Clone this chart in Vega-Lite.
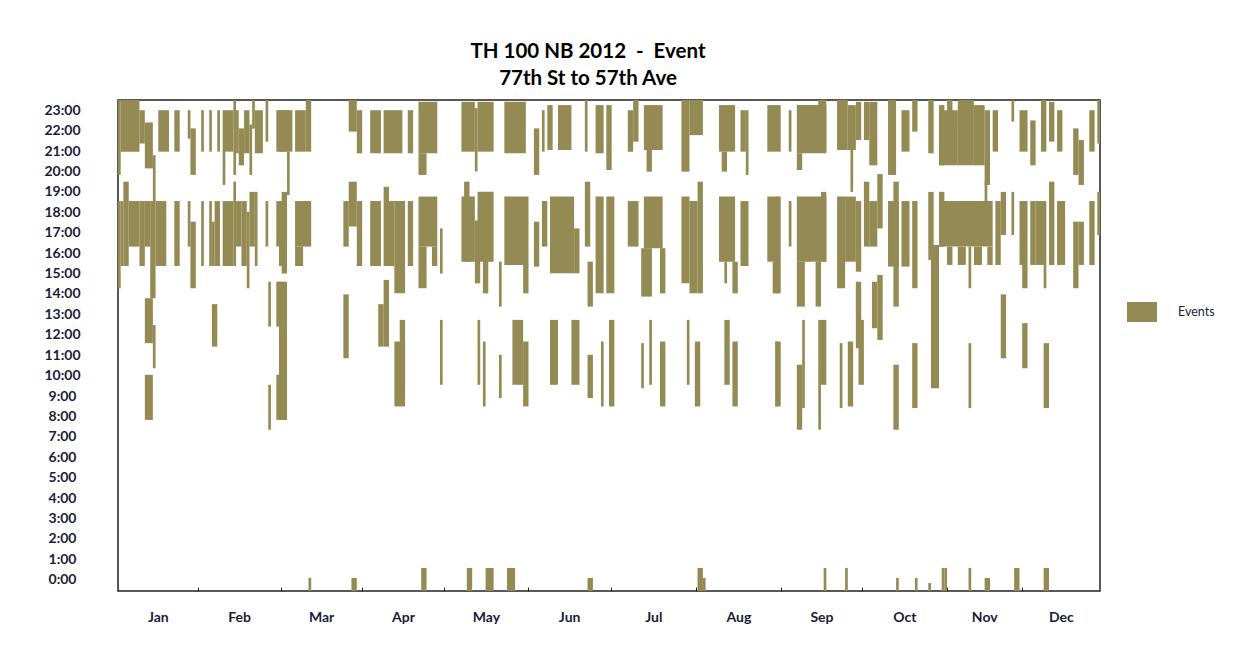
{
  "$schema": "https://vega.github.io/schema/vega-lite/v6.json",
  "width": 982,
  "height": 491,
  "autosize": {"type": "none"},
  "padding": {"left": 118, "top": 100, "right": 141, "bottom": 67},
  "background": "white",
  "title": {
    "text": ["TH 100 NB 2012\u00a0\u00a0-\u00a0\u00a0Event", "77th St to 57th Ave"],
    "font": "Lato",
    "fontSize": 20.5,
    "fontWeight": "bold",
    "color": "#000000",
    "anchor": "middle",
    "dx": -21,
    "lineHeight": 27,
    "offset": 11
  },
  "config": {
    "view": {"stroke": "#222222", "strokeWidth": 1.5},
    "axis": {"labelFont": "Lato", "labelFontWeight": "bold", "labelColor": "#1c1c38", "grid": false, "domain": false}
  },
  "data": {
    "values": [
      {"d0":0,"d1":1,"h0":19.83,"h1":23.5},{"d0":1,"d1":8,"h0":20.97,"h1":23.5},{"d0":8,"d1":10,"h0":21.37,"h1":23.0},{"d0":10,"d1":13,"h0":20.15,"h1":22.4},{"d0":13,"d1":14,"h0":18.5,"h1":20.8},{"d0":15,"d1":19,"h0":20.97,"h1":23.0},{"d0":21,"d1":23,"h0":20.97,"h1":23.0},{"d0":26,"d1":27,"h0":21.6,"h1":23.0},{"d0":27,"d1":29,"h0":19.83,"h1":22.11},{"d0":31,"d1":32,"h0":20.97,"h1":23.0},{"d0":34,"d1":35,"h0":20.97,"h1":23.0},{"d0":37,"d1":38,"h0":20.97,"h1":23.0},{"d0":39,"d1":43,"h0":20.97,"h1":23.0},{"d0":39,"d1":40,"h0":19.34,"h1":21.0},{"d0":43,"d1":44,"h0":19.83,"h1":23.5},{"d0":44,"d1":45,"h0":20.89,"h1":23.0},{"d0":45,"d1":47,"h0":20.3,"h1":22.11},{"d0":47,"d1":49,"h0":20.89,"h1":23.0},{"d0":49,"d1":50,"h0":19.83,"h1":22.3},{"d0":50,"d1":51,"h0":22.1,"h1":23.5},{"d0":51,"d1":54,"h0":20.89,"h1":23.0},{"d0":55,"d1":56,"h0":21.46,"h1":23.5},{"d0":59,"d1":63,"h0":20.97,"h1":23.0},
      {"d0":0,"d1":1,"h0":14.28,"h1":18.55},{"d0":1,"d1":2,"h0":15.37,"h1":18.55},{"d0":2,"d1":4,"h0":15.37,"h1":19.5},{"d0":4,"d1":8,"h0":16.32,"h1":18.55},{"d0":8,"d1":10,"h0":15.37,"h1":18.55},{"d0":10,"d1":12,"h0":16.32,"h1":18.55},{"d0":12,"d1":14,"h0":13.79,"h1":18.55},{"d0":14,"d1":18,"h0":15.37,"h1":18.55},{"d0":21,"d1":23,"h0":15.37,"h1":18.55},{"d0":26,"d1":27,"h0":16.32,"h1":18.55},{"d0":27,"d1":29,"h0":14.28,"h1":17.54},{"d0":31,"d1":32,"h0":15.37,"h1":18.55},{"d0":34,"d1":35,"h0":15.37,"h1":18.55},{"d0":35,"d1":36,"h0":15.37,"h1":17.54},{"d0":36,"d1":38,"h0":15.37,"h1":18.55},{"d0":39,"d1":43,"h0":15.37,"h1":18.55},{"d0":43,"d1":44,"h0":15.37,"h1":19.5},{"d0":44,"d1":46,"h0":16.32,"h1":18.55},{"d0":46,"d1":48,"h0":15.37,"h1":18.55},{"d0":48,"d1":49,"h0":14.28,"h1":18.03},{"d0":49,"d1":51,"h0":16.32,"h1":19.0},{"d0":51,"d1":52,"h0":15.37,"h1":19.0},{"d0":55,"d1":56,"h0":16.32,"h1":18.55},{"d0":59,"d1":63,"h0":16.32,"h1":18.55},
      {"d0":10,"d1":13,"h0":11.59,"h1":13.79},{"d0":13,"d1":14,"h0":10.36,"h1":12.48},{"d0":10,"d1":13,"h0":7.83,"h1":10.04},{"d0":35,"d1":37,"h0":11.42,"h1":13.5},{"d0":56,"d1":57,"h0":12.4,"h1":14.6},{"d0":56,"d1":57,"h0":7.35,"h1":9.55},{"d0":59,"d1":61,"h0":12.4,"h1":14.6},{"d0":59,"d1":61,"h0":7.83,"h1":10.04},
      {"d0":60,"d1":65,"h0":20.97,"h1":23.0},{"d0":63,"d1":64,"h0":18.85,"h1":20.97},{"d0":66,"d1":70,"h0":20.97,"h1":23.0},{"d0":70,"d1":72,"h0":20.97,"h1":23.5},{"d0":60,"d1":62,"h0":15.37,"h1":18.55},{"d0":61,"d1":63,"h0":15.0,"h1":19.0},{"d0":60,"d1":63,"h0":7.83,"h1":14.6},{"d0":66,"d1":72,"h0":16.32,"h1":18.55},{"d0":66,"d1":69,"h0":15.37,"h1":16.32},{"d0":84,"d1":86,"h0":16.32,"h1":18.55},{"d0":86,"d1":89,"h0":17.3,"h1":19.5},{"d0":89,"d1":91,"h0":15.37,"h1":18.55},{"d0":84,"d1":86,"h0":10.85,"h1":13.98},{"d0":86,"d1":89,"h0":21.95,"h1":23.5},{"d0":89,"d1":91,"h0":20.89,"h1":23.0},{"d0":94,"d1":98,"h0":20.89,"h1":23.0},{"d0":94,"d1":98,"h0":15.37,"h1":18.55},{"d0":99,"d1":106,"h0":20.89,"h1":23.0},{"d0":99,"d1":101,"h0":15.37,"h1":19.25},{"d0":101,"d1":103,"h0":15.37,"h1":18.55},{"d0":103,"d1":107,"h0":14.03,"h1":18.55},{"d0":97,"d1":99,"h0":11.42,"h1":13.5},{"d0":99,"d1":101,"h0":11.42,"h1":14.69},{"d0":103,"d1":107,"h0":8.49,"h1":11.67},{"d0":105,"d1":107,"h0":9.55,"h1":12.73},{"d0":108,"d1":110,"h0":20.89,"h1":23.0},{"d0":108,"d1":110,"h0":15.37,"h1":18.55},{"d0":112,"d1":119,"h0":20.89,"h1":23.41},{"d0":112,"d1":115,"h0":19.83,"h1":20.89},{"d0":112,"d1":119,"h0":16.32,"h1":18.77},{"d0":112,"d1":115,"h0":14.28,"h1":16.32},{"d0":117,"d1":119,"h0":15.37,"h1":16.32},{"d0":120,"d1":121,"h0":15.0,"h1":17.21},{"d0":120,"d1":121,"h0":9.55,"h1":12.73},
      {"d0":71,"d1":72,"h0":-0.55,"h1":0.09},{"d0":87,"d1":89,"h0":-0.55,"h1":0.09},{"d0":113,"d1":115,"h0":-0.55,"h1":0.58},
      {"d0":128,"d1":133,"h0":20.97,"h1":23.41},{"d0":134,"d1":140,"h0":20.97,"h1":23.41},{"d0":133,"d1":134,"h0":20.0,"h1":23.1},{"d0":144,"d1":152,"h0":20.89,"h1":23.41},{"d0":155,"d1":157,"h0":19.83,"h1":22.11},{"d0":158,"d1":159,"h0":20.97,"h1":23.0},{"d0":160,"d1":162,"h0":21.05,"h1":23.25},{"d0":164,"d1":169,"h0":21.05,"h1":23.25},{"d0":174,"d1":175,"h0":20.97,"h1":23.5},{"d0":178,"d1":181,"h0":20.89,"h1":23.25},{"d0":182,"d1":184,"h0":20.07,"h1":23.25},
      {"d0":128,"d1":133,"h0":15.58,"h1":18.77},{"d0":134,"d1":140,"h0":15.58,"h1":19.0},{"d0":129,"d1":131,"h0":15.58,"h1":19.5},{"d0":133,"d1":135,"h0":14.52,"h1":17.6},{"d0":136,"d1":138,"h0":14.03,"h1":16.0},{"d0":142,"d1":143,"h0":13.38,"h1":15.58},{"d0":144,"d1":153,"h0":15.42,"h1":18.77},{"d0":151,"d1":153,"h0":14.03,"h1":15.42},{"d0":155,"d1":157,"h0":15.34,"h1":17.54},{"d0":158,"d1":160,"h0":16.32,"h1":18.55},{"d0":161,"d1":170,"h0":15.01,"h1":18.77},{"d0":170,"d1":172,"h0":15.01,"h1":17.21},{"d0":174,"d1":176,"h0":16.32,"h1":19.5},{"d0":175,"d1":177,"h0":13.38,"h1":15.58},{"d0":178,"d1":181,"h0":14.03,"h1":18.77},{"d0":182,"d1":185,"h0":14.03,"h1":18.77},
      {"d0":134,"d1":135,"h0":9.55,"h1":12.73},{"d0":136,"d1":137,"h0":8.49,"h1":11.67},{"d0":142,"d1":143,"h0":8.9,"h1":11.02},{"d0":147,"d1":151,"h0":9.55,"h1":12.73},{"d0":151,"d1":153,"h0":8.49,"h1":11.67},{"d0":161,"d1":164,"h0":9.55,"h1":12.73},{"d0":169,"d1":172,"h0":9.55,"h1":12.73},{"d0":175,"d1":177,"h0":8.9,"h1":11.02},{"d0":180,"d1":181,"h0":8.49,"h1":11.67},{"d0":183,"d1":185,"h0":8.49,"h1":12.73},
      {"d0":130,"d1":132,"h0":-0.55,"h1":0.58},{"d0":137,"d1":140,"h0":-0.55,"h1":0.58},{"d0":145,"d1":148,"h0":-0.55,"h1":0.58},{"d0":175,"d1":177,"h0":-0.55,"h1":0.09},
      {"d0":190,"d1":192,"h0":20.97,"h1":23.0},{"d0":192,"d1":194,"h0":21.46,"h1":23.5},{"d0":196,"d1":203,"h0":21.05,"h1":23.25},{"d0":197,"d1":199,"h0":19.99,"h1":21.05},{"d0":210,"d1":213,"h0":19.99,"h1":23.5},{"d0":213,"d1":218,"h0":21.78,"h1":23.5},{"d0":224,"d1":230,"h0":20.97,"h1":23.25},{"d0":225,"d1":227,"h0":19.99,"h1":20.97},{"d0":232,"d1":234,"h0":20.97,"h1":23.0},{"d0":234,"d1":235,"h0":19.83,"h1":23.0},{"d0":242,"d1":247,"h0":20.97,"h1":23.25},
      {"d0":190,"d1":194,"h0":16.32,"h1":18.55},{"d0":196,"d1":203,"h0":16.24,"h1":18.77},{"d0":195,"d1":199,"h0":13.87,"h1":16.24},{"d0":202,"d1":204,"h0":14.03,"h1":16.24},{"d0":210,"d1":213,"h0":14.52,"h1":18.77},{"d0":213,"d1":216,"h0":14.03,"h1":18.55},{"d0":216,"d1":218,"h0":14.03,"h1":19.5},{"d0":224,"d1":230,"h0":15.58,"h1":18.77},{"d0":226,"d1":227,"h0":14.52,"h1":15.58},{"d0":229,"d1":231,"h0":14.03,"h1":15.58},{"d0":232,"d1":235,"h0":15.37,"h1":18.55},{"d0":242,"d1":246,"h0":15.58,"h1":18.77},{"d0":244,"d1":246,"h0":14.03,"h1":15.58},
      {"d0":195,"d1":196,"h0":9.38,"h1":11.59},{"d0":198,"d1":199,"h0":9.55,"h1":12.73},{"d0":202,"d1":204,"h0":8.49,"h1":11.67},{"d0":212,"d1":213,"h0":9.55,"h1":12.73},{"d0":215,"d1":217,"h0":8.49,"h1":11.67},{"d0":226,"d1":228,"h0":9.55,"h1":12.73},{"d0":229,"d1":231,"h0":8.49,"h1":11.67},{"d0":245,"d1":246,"h0":8.49,"h1":11.67},
      {"d0":216,"d1":218,"h0":-0.55,"h1":0.58},{"d0":218,"d1":219,"h0":-0.55,"h1":0.09},
      {"d0":245,"d1":247,"h0":14.03,"h1":18.77},{"d0":245,"d1":247,"h0":8.49,"h1":11.67},{"d0":250,"d1":251,"h0":20.97,"h1":23.0},{"d0":250,"d1":251,"h0":16.32,"h1":18.55},{"d0":253,"d1":264,"h0":20.89,"h1":23.25},{"d0":253,"d1":255,"h0":20.07,"h1":20.89},{"d0":261,"d1":264,"h0":20.97,"h1":23.5},{"d0":253,"d1":264,"h0":15.58,"h1":18.77},{"d0":262,"d1":264,"h0":15.58,"h1":19.0},{"d0":253,"d1":256,"h0":13.38,"h1":15.58},{"d0":260,"d1":262,"h0":13.38,"h1":15.58},{"d0":253,"d1":255,"h0":7.35,"h1":10.53},{"d0":255,"d1":256,"h0":8.41,"h1":12.73},{"d0":261,"d1":262,"h0":7.35,"h1":12.73},{"d0":262,"d1":264,"h0":9.55,"h1":12.73},
      {"d0":268,"d1":272,"h0":21.05,"h1":23.5},{"d0":272,"d1":275,"h0":21.05,"h1":23.25},{"d0":273,"d1":274,"h0":19.0,"h1":21.05},{"d0":275,"d1":277,"h0":21.54,"h1":23.41},{"d0":268,"d1":271,"h0":14.28,"h1":18.77},{"d0":271,"d1":275,"h0":15.58,"h1":18.77},{"d0":275,"d1":277,"h0":15.09,"h1":18.55},{"d0":275,"d1":277,"h0":11.34,"h1":14.6},{"d0":276,"d1":278,"h0":9.55,"h1":12.73},{"d0":269,"d1":270,"h0":8.41,"h1":11.59},{"d0":272,"d1":274,"h0":8.49,"h1":11.67},
      {"d0":278,"d1":280,"h0":21.54,"h1":23.41},{"d0":280,"d1":283,"h0":20.3,"h1":23.41},{"d0":278,"d1":280,"h0":16.32,"h1":19.5},{"d0":280,"d1":283,"h0":16.32,"h1":18.55},{"d0":283,"d1":285,"h0":17.21,"h1":19.87},{"d0":281,"d1":283,"h0":12.32,"h1":14.6},{"d0":283,"d1":285,"h0":11.75,"h1":14.93},
      {"d0":287,"d1":290,"h0":19.83,"h1":23.5},{"d0":287,"d1":291,"h0":15.34,"h1":18.55},{"d0":289,"d1":291,"h0":13.38,"h1":19.5},{"d0":289,"d1":291,"h0":7.35,"h1":10.53},{"d0":292,"d1":295,"h0":20.97,"h1":23.0},{"d0":292,"d1":295,"h0":15.34,"h1":18.55},{"d0":296,"d1":298,"h0":21.95,"h1":23.5},{"d0":296,"d1":298,"h0":14.28,"h1":18.55},{"d0":296,"d1":298,"h0":8.41,"h1":11.59},{"d0":302,"d1":304,"h0":20.89,"h1":23.5},{"d0":302,"d1":304,"h0":15.67,"h1":19.0},{"d0":303,"d1":306,"h0":9.38,"h1":16.4},{"d0":306,"d1":308,"h0":20.3,"h1":23.25},{"d0":306,"d1":308,"h0":16.32,"h1":19.0},
      {"d0":263,"d1":264,"h0":-0.55,"h1":0.58},{"d0":271,"d1":272,"h0":-0.55,"h1":0.58},{"d0":290,"d1":291,"h0":-0.55,"h1":0.09},{"d0":297,"d1":298,"h0":-0.55,"h1":0.09},{"d0":302,"d1":303,"h0":-0.55,"h1":-0.16},{"d0":307,"d1":308,"h0":-0.55,"h1":0.58},
      {"d0":306,"d1":313,"h0":20.3,"h1":23.0},{"d0":309,"d1":311,"h0":22.0,"h1":23.5},{"d0":313,"d1":319,"h0":20.3,"h1":23.5},{"d0":319,"d1":323,"h0":20.3,"h1":23.25},{"d0":323,"d1":325,"h0":19.34,"h1":23.0},{"d0":326,"d1":328,"h0":20.97,"h1":23.0},{"d0":333,"d1":334,"h0":22.44,"h1":23.5},{"d0":336,"d1":339,"h0":20.97,"h1":23.0},{"d0":340,"d1":342,"h0":20.3,"h1":22.5},{"d0":344,"d1":346,"h0":20.97,"h1":23.5},{"d0":347,"d1":349,"h0":21.46,"h1":23.41},{"d0":350,"d1":352,"h0":20.97,"h1":23.0},{"d0":356,"d1":358,"h0":19.83,"h1":22.11},{"d0":358,"d1":360,"h0":19.34,"h1":21.54},{"d0":362,"d1":364,"h0":20.97,"h1":23.0},{"d0":365,"d1":366,"h0":21.37,"h1":23.5},
      {"d0":306,"d1":326,"h0":16.32,"h1":18.55},{"d0":306,"d1":307,"h0":16.32,"h1":19.0},{"d0":309,"d1":311,"h0":15.42,"h1":16.32},{"d0":313,"d1":316,"h0":15.42,"h1":16.32},{"d0":317,"d1":318,"h0":14.28,"h1":16.32},{"d0":319,"d1":322,"h0":15.42,"h1":16.32},{"d0":324,"d1":326,"h0":15.42,"h1":16.32},{"d0":323,"d1":324,"h0":17.54,"h1":19.5},{"d0":327,"d1":329,"h0":15.42,"h1":18.55},{"d0":329,"d1":331,"h0":16.89,"h1":19.0},{"d0":333,"d1":334,"h0":16.89,"h1":19.0},{"d0":336,"d1":339,"h0":15.42,"h1":18.55},{"d0":337,"d1":339,"h0":14.28,"h1":15.42},{"d0":340,"d1":342,"h0":15.42,"h1":18.55},{"d0":342,"d1":346,"h0":15.42,"h1":18.55},{"d0":345,"d1":346,"h0":14.28,"h1":15.42},{"d0":347,"d1":349,"h0":15.42,"h1":19.5},{"d0":350,"d1":353,"h0":15.42,"h1":18.55},{"d0":356,"d1":358,"h0":14.28,"h1":17.54},{"d0":358,"d1":360,"h0":15.42,"h1":17.54},{"d0":362,"d1":364,"h0":15.42,"h1":18.55},{"d0":365,"d1":366,"h0":16.89,"h1":19.0},
      {"d0":317,"d1":318,"h0":8.41,"h1":11.59},{"d0":329,"d1":331,"h0":10.85,"h1":13.98},{"d0":337,"d1":339,"h0":10.36,"h1":12.57},{"d0":345,"d1":347,"h0":8.41,"h1":11.59},
      {"d0":308,"d1":309,"h0":-0.55,"h1":0.58},{"d0":317,"d1":318,"h0":-0.55,"h1":0.58},{"d0":323,"d1":325,"h0":-0.55,"h1":0.09},{"d0":334,"d1":336,"h0":-0.55,"h1":0.58},{"d0":345,"d1":347,"h0":-0.55,"h1":0.58}
    ]
  },
  "layer": [
    {
      "mark": {"type": "rect"},
      "encoding": {
        "x": {
          "field": "d0", "type": "quantitative",
          "scale": {"domain": [0, 366], "nice": false, "zero": false},
          "axis": {
            "title": null,
            "values": [14.85, 45.15, 75.7, 106.2, 137.15, 168.15, 199.5, 231.25, 262.2, 293.1, 322.85, 351.4],
            "labelExpr": "['Jan','Feb','Mar','Apr','May','Jun','Jul','Aug','Sep','Oct','Nov','Dec'][floor(datum.value / 30.5)]",
            "ticks": false, "tickSize": 0, "labelPadding": 19, "labelFontSize": 14
          }
        },
        "x2": {"field": "d1"},
        "y": {
          "field": "h0", "type": "quantitative",
          "scale": {"domain": [-0.55, 23.5], "nice": false, "zero": false},
          "axis": {
            "title": null,
            "values": [0,1,2,3,4,5,6,7,8,9,10,11,12,13,14,15,16,17,18,19,20,21,22,23],
            "labelExpr": "datum.value + ':00'",
            "ticks": false, "tickSize": 0, "labelAlign": "center", "labelPadding": 56, "labelFontSize": 14
          }
        },
        "y2": {"field": "h1"},
        "color": {
          "datum": "Events", "type": "nominal",
          "scale": {"range": ["#948a54"]},
          "legend": {
            "title": null, "orient": "none", "legendX": 1014, "legendY": 202,
            "symbolType": "M-1.5,-1H1.5V1H-1.5Z", "symbolSize": 400, "symbolStrokeWidth": 0, "symbolOpacity": 1,
            "labelFont": "Lato", "labelFontSize": 12.5, "labelColor": "#1c1c38", "labelOffset": 26, "padding": 0
          }
        }
      }
    },
    {
      "mark": {"type": "point", "opacity": 0},
      "encoding": {
        "x": {
          "field": "d0", "type": "quantitative",
          "axis": {
            "orient": "bottom", "title": null, "labels": false, "domain": false,
            "values": [29.7, 60.6, 90.8, 121.6, 152.7, 183.6, 215.4, 247.1, 277.3, 308.9, 336.8],
            "ticks": true, "tickSize": -4, "tickColor": "#222222", "tickWidth": 1
          }
        }
      }
    }
  ],
  "resolve": {"axis": {"x": "independent"}}
}
